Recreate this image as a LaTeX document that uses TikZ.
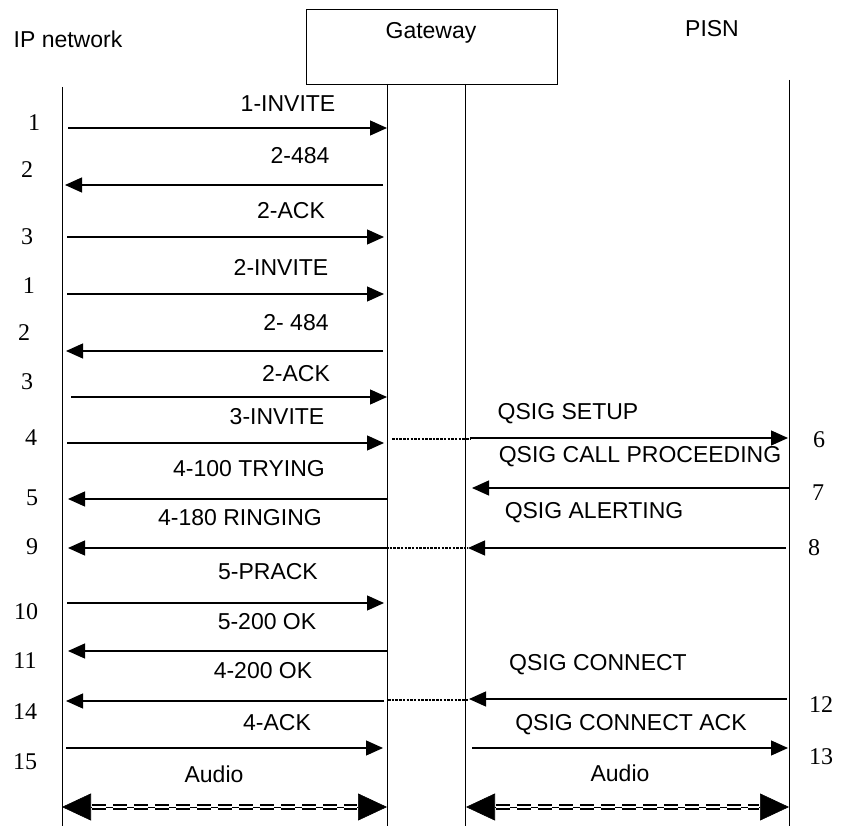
\documentclass[tikz,border=0pt]{standalone}
\usepackage{fontspec}
\setmainfont{Liberation Sans}
\newfontfamily\numfont{Liberation Serif}
\usetikzlibrary{arrows.meta}
\begin{document}
\begin{tikzpicture}[x=1pt,y=-1pt,
  lbl/.style={font=\fontsize{23}{25}\selectfont, inner sep=0pt},
  num/.style={font=\numfont\fontsize{24}{26}\selectfont, inner sep=0pt},
  life/.style={line width=1pt},
  msg/.style={line width=1.3pt,-{Triangle[length=17pt,width=15pt]}},
  link/.style={line width=2.6pt, dash pattern=on 2.5pt off 1.2pt},
  audiotips/.style={line width=0.6pt,{Triangle[length=29pt,width=27pt]}-{Triangle[length=29pt,width=27pt]}},
  audioline/.style={line width=2.6pt, double distance=1.6pt, dash pattern=on 14pt off 7pt, shorten <=30pt, shorten >=30pt}
]
\useasboundingbox (0,0) rectangle (844,826);

% header
\node[lbl] (ipl) at (68,39) {IP network};
\node[draw, line width=1pt, minimum width=251pt, minimum height=75pt, anchor=north west, inner sep=0pt] (gw) at (306,9) {};
\node[lbl] (gwl) at (431,33) {Gateway};
\node[lbl] (pisnl) at (712,29) {PISN};

% lifelines
\coordinate (ipT) at (62,87);   \coordinate (ipB) at (62,826);
\coordinate (gaT) at (387,84);  \coordinate (gaB) at (387,826);
\coordinate (gbT) at (465,84);  \coordinate (gbB) at (465,826);
\coordinate (psT) at (789,80);  \coordinate (psB) at (789,826);
\draw[life] (ipT) -- (ipB);
\draw[life] (gaT) -- (gaB);
\draw[life] (gbT) -- (gbB);
\draw[life] (psT) -- (psB);

% left messages
\coordinate (m1s) at (68,128);  \coordinate (m1e) at (387,128);
\coordinate (m2s) at (383,185); \coordinate (m2e) at (65,185);
\coordinate (m3s) at (67,237);  \coordinate (m3e) at (384,237);
\coordinate (m4s) at (67,294);  \coordinate (m4e) at (384,294);
\coordinate (m5s) at (383,351); \coordinate (m5e) at (66,351);
\coordinate (m6s) at (71,397);  \coordinate (m6e) at (387,397);
\coordinate (m7s) at (67,443);  \coordinate (m7e) at (384,443);
\coordinate (m8s) at (387,499); \coordinate (m8e) at (68,499);
\coordinate (m9s) at (387,548); \coordinate (m9e) at (68,548);
\coordinate (m10s) at (67,603); \coordinate (m10e) at (384,603);
\coordinate (m11s) at (387,651);\coordinate (m11e) at (68,651);
\coordinate (m14s) at (384,701);\coordinate (m14e) at (66,701);
\coordinate (m15s) at (66,748); \coordinate (m15e) at (383,748);
\foreach \m in {1,2,3,4,5,6,7,8,9,10,11,14,15}
  \draw[msg] (m\m s) -- (m\m e);

% right messages
\coordinate (q6s) at (470,438);  \coordinate (q6e) at (788,438);
\coordinate (q7s) at (789,488);  \coordinate (q7e) at (472,488);
\coordinate (q8s) at (786,548);  \coordinate (q8e) at (468,548);
\coordinate (q12s) at (787,699); \coordinate (q12e) at (469,699);
\coordinate (q13s) at (472,748); \coordinate (q13e) at (788,748);
\foreach \m in {6,7,8,12,13}
  \draw[msg] (q\m s) -- (q\m e);

% dotted links inside gateway
\coordinate (d1s) at (392,439); \coordinate (d1e) at (470,439);
\coordinate (d2s) at (386,548); \coordinate (d2e) at (468,548);
\coordinate (d3s) at (388,700); \coordinate (d3e) at (469,700);
\draw[link] (d1s) -- (d1e);
\draw[link] (d2s) -- (d2e);
\draw[link] (d3s) -- (d3e);

% audio
\coordinate (a1s) at (62,807);  \coordinate (a1e) at (387,807);
\coordinate (a2s) at (466,807); \coordinate (a2e) at (789,807);
\draw[audiotips] (a1s) -- (a1e);
\draw[audioline] (a1s) -- (a1e);
\draw[audiotips] (a2s) -- (a2e);
\draw[audioline] (a2s) -- (a2e);

% left labels
\node[lbl] (l1) at (288,104) {1-INVITE};
\node[lbl] (l2) at (300,156) {2-484};
\node[lbl] (l3) at (291,211) {2-ACK};
\node[lbl] (l4) at (281,267) {2-INVITE};
\node[lbl] (l5) at (296,323) {2- 484};
\node[lbl] (l6) at (296,374) {2-ACK};
\node[lbl] (l7) at (277,417) {3-INVITE};
\node[lbl] (l8) at (249,469) {4-100 TRYING};
\node[lbl] (l9) at (240,518) {4-180 RINGING};
\node[lbl] (l10) at (268,572) {5-PRACK};
\node[lbl] (l11) at (267,622) {5-200 OK};
\node[lbl] (l14) at (263,671) {4-200 OK};
\node[lbl] (l15) at (277,723) {4-ACK};
\node[lbl] (au1) at (214,774) {Audio};

% right labels
\node[lbl] (r6) at (568,414) {QSIG SETUP};
\node[lbl] (r7) at (640,457) {QSIG CALL PROCEEDING};
\node[lbl] (r8) at (594,513) {QSIG ALERTING};
\node[lbl] (r12) at (598,665) {QSIG CONNECT};
\node[lbl] (r13) at (631,725) {QSIG CONNECT ACK};
\node[lbl] (au2) at (620,773) {Audio};

% step numbers left
\node[num] (n1a) at (34,123) {1};
\node[num] (n2a) at (27,170) {2};
\node[num] (n3a) at (27,237) {3};
\node[num] (n1b) at (29,286) {1};
\node[num] (n2b) at (24,333) {2};
\node[num] (n3b) at (27,382) {3};
\node[num] (n4) at (31,438) {4};
\node[num] (n5) at (32,498) {5};
\node[num] (n9) at (32,547) {9};
\node[num] (n10) at (26,612) {10};
\node[num] (n11) at (25,661) {11};
\node[num] (n14) at (25,712) {14};
\node[num] (n15) at (25,762) {15};

% step numbers right
\node[num] (n6) at (819,440) {6};
\node[num] (n7) at (818,493) {7};
\node[num] (n8) at (814,548) {8};
\node[num] (n12) at (821,705) {12};
\node[num] (n13) at (821,757) {13};
\end{tikzpicture}
\end{document}
